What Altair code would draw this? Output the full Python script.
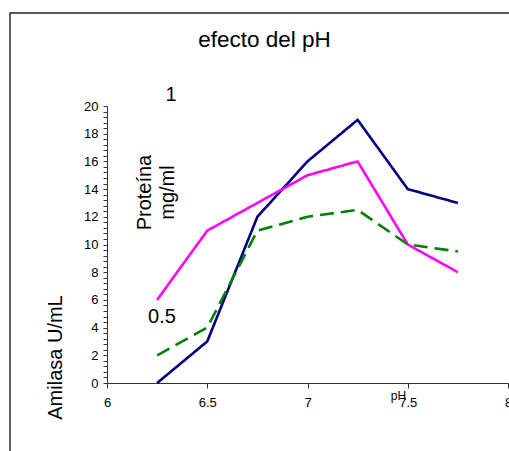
import altair as alt
import pandas as pd

ph = [6.25, 6.5, 6.75, 7.0, 7.25, 7.5, 7.75]
serie_azul = [0, 3, 12, 16, 19, 14, 13]
serie_magenta = [6, 11, 13, 15, 16, 10, 8]
serie_verde = [2, 4, 11, 12, 12.5, 10, 9.5]

series_names = ["azul", "magenta", "verde"]
series_colors = ["#000080", "#FF00FF", "#008000"]

ann_text = ["1", "0.5", "Proteína", "mg/ml"]
ann_x = [6.32, 6.274, 6.19, 6.305]
ann_y = [20.8, 4.75, 13.75, 13.75]
ann_angle = [0, 0, 270, 270]

y_major = [0, 2, 4, 6, 8, 10, 12, 14, 16, 18, 20]
y_minor = [round(i * 0.4, 1) for i in range(51)]
x_ticks = [6, 6.5, 7, 7.5, 8]

rows = []
for name, vals in zip(series_names, [serie_azul, serie_magenta, serie_verde]):
    for p, v in zip(ph, vals):
        rows.append({"pH": p, "valor": v, "serie": name})
df = pd.DataFrame(rows)

ann = pd.DataFrame({"t": ann_text, "x": ann_x, "y": ann_y, "a": ann_angle})

xscale = alt.Scale(domain=[6, 8], nice=False)
yscale = alt.Scale(domain=[0, 20], nice=False)

x_axis = alt.Axis(values=x_ticks, format="~g", title="pH", titleFontSize=12,
                  titleFontWeight="normal",
                  titleX=291, titleY=12, titleAlign="center", titleBaseline="middle",
                  titleFont="Liberation Sans", titleColor="#000",
                  labelFont="Liberation Sans", labelFontSize=13, labelColor="#000",
                  labelPadding=8, tickSize=5, tickColor="#333", domainColor="#333",
                  grid=False, labelFlush=False, labelOverlap=False)
y_axis = alt.Axis(values=y_minor, format="~g", title="Amilasa U/mL", titleFontSize=20,
                  titleFontWeight="normal", titleFont="Liberation Sans", titleColor="#000",
                  titleX=-52, titleY=251, titleAngle=270, titleAlign="center",
                  titleBaseline="middle",
                  labelExpr="indexof(" + str(y_major) + ", datum.value) >= 0 ? datum.label : ''",
                  labelFont="Liberation Sans", labelFontSize=13, labelColor="#000",
                  labelPadding=5, labelOverlap=False, labelBound=False,
                  tickSize=4, tickColor="#333", domainColor="#333", grid=False)

lines = alt.Chart(df).mark_line(strokeWidth=2.6).encode(
    x=alt.X("pH:Q", scale=xscale, axis=x_axis),
    y=alt.Y("valor:Q", scale=yscale, axis=y_axis),
    color=alt.Color("serie:N", scale=alt.Scale(domain=series_names, range=series_colors), legend=None),
    strokeDash=alt.StrokeDash("serie:N", scale=alt.Scale(domain=series_names,
                                                         range=[[1, 0], [1, 0], [14, 7]]), legend=None),
)

texts = alt.Chart(ann).mark_text(font="Liberation Sans", fontSize=20, color="#000",
                                 baseline="middle", align="center").encode(
    x=alt.X("x:Q", scale=xscale, axis=x_axis),
    y=alt.Y("y:Q", scale=yscale, axis=y_axis),
    text="t:N",
    angle=alt.Angle("a:Q", scale=None),
)

frame = alt.Chart(ann).mark_rect(fill=None, stroke="#222", strokeWidth=1.4).encode(
    x=alt.value(-97), x2=alt.value(700), y=alt.value(-93), y2=alt.value(700)
).transform_filter("datum.t == '1'")

chart = alt.layer(frame, lines, texts).properties(
    width=401, height=277,
    title=alt.TitleParams("efecto del pH", fontSize=22.5, font="Liberation Sans", fontWeight="normal",
                          color="#000", dx=-43, offset=-57, baseline="alphabetic"),
    autosize=alt.AutoSizeParams(type="none"),
    padding={"left": 107, "top": 106, "right": 1, "bottom": 68},
).configure_view(stroke=None)

chart.save("out.html", embed_options={"renderer": "svg", "actions": False})
